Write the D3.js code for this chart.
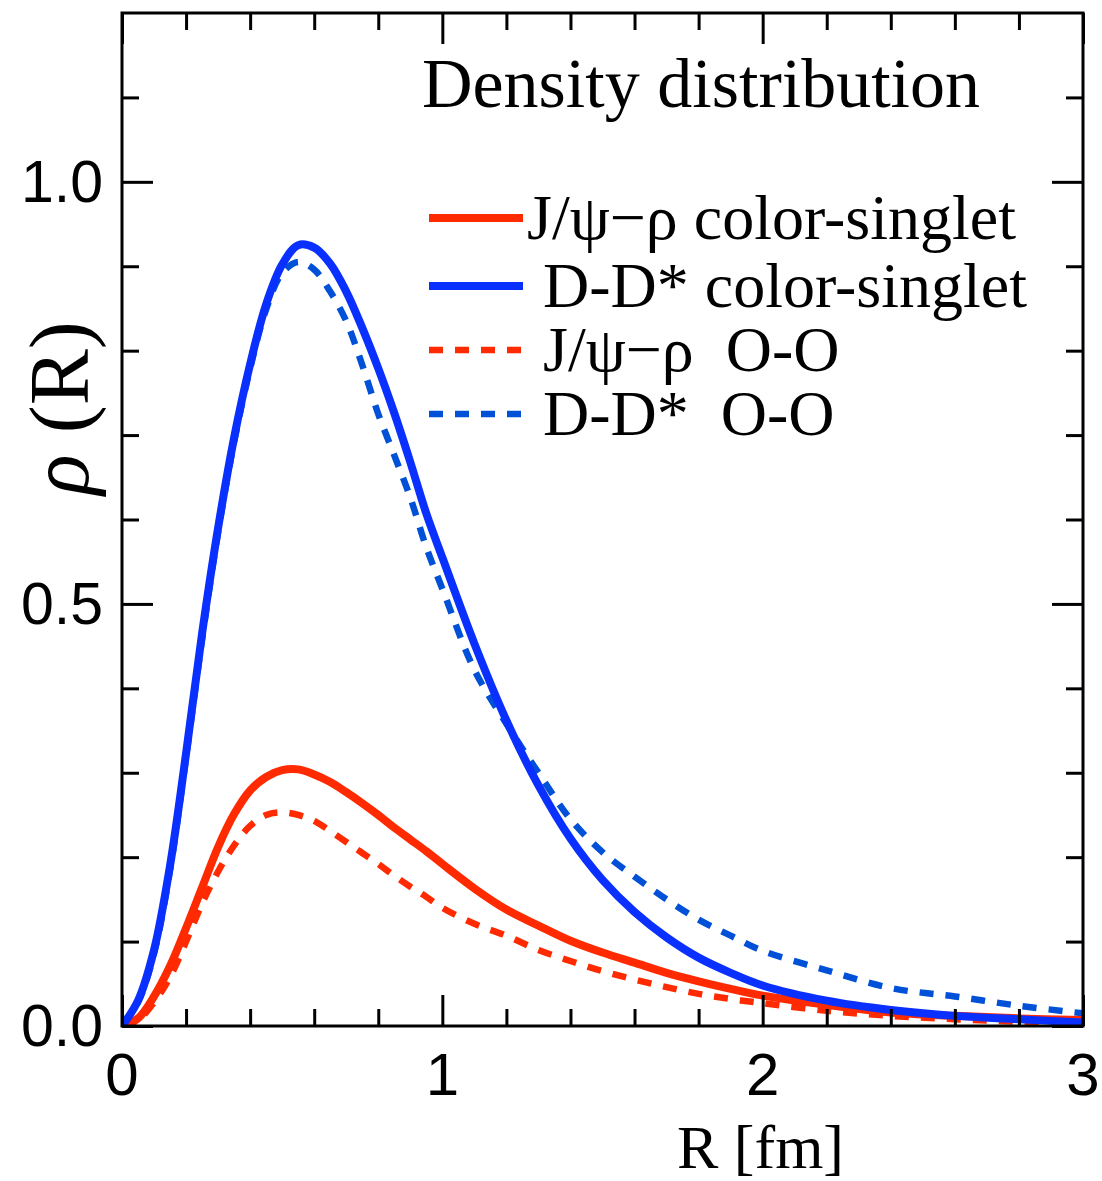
<!DOCTYPE html>
<html>
<head>
<meta charset="utf-8">
<script src="https://cdn.jsdelivr.net/npm/d3@7"></script>
<style>
  html, body { margin: 0; padding: 0; background: #fff; }
  svg { display: block; }
  text { white-space: pre; }
</style>
</head>
<body>
<svg id="chart" width="1102" height="1181"></svg>
<script>
// Radial grid (fm) shared by all four density curves
const radius = [0, 0.05, 0.1, 0.15, 0.2, 0.25, 0.3, 0.35, 0.4, 0.45, 0.5, 0.55, 0.6, 0.65, 0.7, 0.75,
  0.8, 0.85, 0.9, 0.95, 1.0, 1.1, 1.2, 1.3, 1.4, 1.5, 1.6, 1.7, 1.8, 1.9, 2.0, 2.2, 2.4, 2.6, 2.8, 3.0];

// J/psi-rho, color-singlet
const jpsiRhoSinglet = [0, 0.009, 0.035, 0.071, 0.116, 0.164, 0.212, 0.251, 0.279, 0.295, 0.303, 0.304,
  0.298, 0.289, 0.277, 0.264, 0.25, 0.235, 0.221, 0.207, 0.192, 0.163, 0.138, 0.119, 0.101, 0.087,
  0.075, 0.063, 0.053, 0.044, 0.036, 0.025, 0.016, 0.012, 0.009, 0.007];

// D-D*, color-singlet
const ddStarSinglet = [0, 0.030, 0.090, 0.190, 0.323, 0.465, 0.590, 0.697, 0.784, 0.855, 0.902, 0.925,
  0.922, 0.903, 0.870, 0.827, 0.779, 0.726, 0.668, 0.607, 0.555, 0.453, 0.362, 0.285, 0.222, 0.173,
  0.135, 0.105, 0.081, 0.063, 0.048, 0.030, 0.019, 0.012, 0.008, 0.004];

// J/psi-rho, octet-octet
const jpsiRhoOctet = [0, 0.007, 0.028, 0.058, 0.100, 0.145, 0.183, 0.214, 0.237, 0.250, 0.253, 0.250,
  0.243, 0.231, 0.218, 0.205, 0.192, 0.178, 0.165, 0.153, 0.140, 0.121, 0.107, 0.090, 0.077, 0.065,
  0.055, 0.046, 0.038, 0.032, 0.027, 0.018, 0.012, 0.008, 0.005, 0.003];

// D-D*, octet-octet
const ddStarOctet = [0, 0.028, 0.086, 0.185, 0.318, 0.458, 0.585, 0.692, 0.779, 0.849, 0.892, 0.905,
  0.896, 0.870, 0.835, 0.783, 0.725, 0.676, 0.626, 0.567, 0.518, 0.422, 0.358, 0.300, 0.245, 0.206,
  0.177, 0.150, 0.126, 0.107, 0.089, 0.066, 0.045, 0.035, 0.024, 0.015];

const xMajorTicks = [0, 1, 2, 3];
const xMinorTicks = [0.2, 0.4, 0.6, 0.8, 1.2, 1.4, 1.6, 1.8, 2.2, 2.4, 2.6, 2.8];
const yMajorTicks = [0, 0.5, 1.0];
const yMinorTicks = [0.1, 0.2, 0.3, 0.4, 0.6, 0.7, 0.8, 0.9, 1.1];
const xTickLabels = ["0", "1", "2", "3"];
const yTickLabels = ["0.0", "0.5", "1.0"];

const seriesNames = ["J/\u03c8\u2212\u03c1 color-singlet", " D-D* color-singlet", " J/\u03c8\u2212\u03c1  O-O", " D-D*  O-O"];
const seriesValues = [jpsiRhoSinglet, ddStarSinglet, jpsiRhoOctet, ddStarOctet];
const seriesColors = ["#ff2a00", "#0a30ff", "#ff2a00", "#0050d8"];
const seriesDashed = [false, false, true, true];

const svg = d3.select("#chart");
const plotL = 122, plotR = 1083, plotT = 13, plotB = 1026;

const x = d3.scaleLinear().domain([0, 3]).range([plotL, plotR]);
const y = d3.scaleLinear().domain([0, 1.2]).range([plotB, plotT]);

const SANS = "'Liberation Sans', Arial, Helvetica, sans-serif";
const SERIF = "'Liberation Serif', 'Times New Roman', serif";

svg.append("defs").append("clipPath").attr("id", "plotClip")
  .append("rect").attr("x", plotL).attr("y", plotT).attr("width", plotR - plotL).attr("height", plotB - plotT);

// Curves: dashed first, then solid ones on top
const line = d3.line().x((d, i) => x(radius[i])).y(d => y(d)).curve(d3.curveCatmullRom.alpha(0.5));
const curves = svg.append("g").attr("clip-path", "url(#plotClip)");
const drawOrder = [3, 2, 0, 1];
drawOrder.forEach(k => {
  curves.append("path")
    .datum(seriesValues[k])
    .attr("d", line)
    .attr("fill", "none")
    .attr("stroke", seriesColors[k])
    .attr("stroke-width", seriesDashed[k] ? 6.5 : 8)
    .attr("stroke-dasharray", seriesDashed[k] ? "14,12" : null)
    .attr("stroke-linejoin", "round");
});

// Axes: ticks point inward on all four sides
function styleAxis(g) {
  g.select(".domain").remove();
  g.selectAll(".tick line").attr("stroke", "#000").attr("stroke-width", 3);
}
const MAJ = 31, MIN = 17;
svg.append("g").attr("transform", `translate(0,${plotB})`)
  .call(d3.axisBottom(x).tickValues(xMajorTicks).tickSize(-MAJ).tickFormat(""))
  .call(styleAxis);
svg.append("g").attr("transform", `translate(0,${plotB})`)
  .call(d3.axisBottom(x).tickValues(xMinorTicks).tickSize(-MIN).tickFormat(""))
  .call(styleAxis);
svg.append("g").attr("transform", `translate(0,${plotT})`)
  .call(d3.axisTop(x).tickValues(xMajorTicks).tickSize(-MAJ).tickFormat(""))
  .call(styleAxis);
svg.append("g").attr("transform", `translate(0,${plotT})`)
  .call(d3.axisTop(x).tickValues(xMinorTicks).tickSize(-MIN).tickFormat(""))
  .call(styleAxis);
svg.append("g").attr("transform", `translate(${plotL},0)`)
  .call(d3.axisLeft(y).tickValues(yMajorTicks).tickSize(-MAJ).tickFormat(""))
  .call(styleAxis);
svg.append("g").attr("transform", `translate(${plotL},0)`)
  .call(d3.axisLeft(y).tickValues(yMinorTicks).tickSize(-MIN).tickFormat(""))
  .call(styleAxis);
svg.append("g").attr("transform", `translate(${plotR},0)`)
  .call(d3.axisRight(y).tickValues(yMajorTicks).tickSize(-MAJ).tickFormat(""))
  .call(styleAxis);
svg.append("g").attr("transform", `translate(${plotR},0)`)
  .call(d3.axisRight(y).tickValues(yMinorTicks).tickSize(-MIN).tickFormat(""))
  .call(styleAxis);

// Frame
svg.append("rect").attr("x", plotL).attr("y", plotT)
  .attr("width", plotR - plotL).attr("height", plotB - plotT)
  .attr("fill", "none").attr("stroke", "#000").attr("stroke-width", 3);

// Tick labels
svg.append("g").selectAll("text").data(xMajorTicks).join("text")
  .attr("x", d => x(d)).attr("y", 1095)
  .attr("text-anchor", "middle")
  .attr("font-family", SANS).attr("font-size", 60)
  .text((d, i) => xTickLabels[i]);
svg.append("g").selectAll("text").data(yMajorTicks).join("text")
  .attr("x", 103).attr("y", d => y(d) + 20)
  .attr("text-anchor", "end")
  .attr("font-family", SANS).attr("font-size", 59)
  .text((d, i) => yTickLabels[i]);

// Axis titles
svg.append("text").attr("x", 677).attr("y", 1168)
  .attr("font-family", SERIF).attr("font-size", 62)
  .text("R [fm]");
const yTitle = svg.append("text")
  .attr("transform", "translate(88,408) rotate(-90)")
  .attr("text-anchor", "middle")
  .attr("font-family", SERIF).attr("font-size", 84);
yTitle.append("tspan").attr("font-style", "italic").text("\u03c1");
yTitle.append("tspan").text(" (R)");

// Panel title
svg.append("text").attr("x", 422).attr("y", 107)
  .attr("font-family", SERIF).attr("font-size", 70)
  .text("Density distribution");

// Legend
const legendY = [218, 286, 350, 414];
const legend = svg.append("g");
seriesNames.forEach((name, k) => {
  legend.append("line")
    .attr("x1", 429).attr("x2", 523)
    .attr("y1", legendY[k]).attr("y2", legendY[k])
    .attr("stroke", seriesColors[k])
    .attr("stroke-width", seriesDashed[k] ? 6.5 : 8)
    .attr("stroke-dasharray", seriesDashed[k] ? "14,12" : null);
  legend.append("text")
    .attr("x", 527).attr("y", legendY[k] + 21)
    .attr("font-family", SERIF).attr("font-size", 64)
    .text(name);
});
</script>
</body>
</html>
